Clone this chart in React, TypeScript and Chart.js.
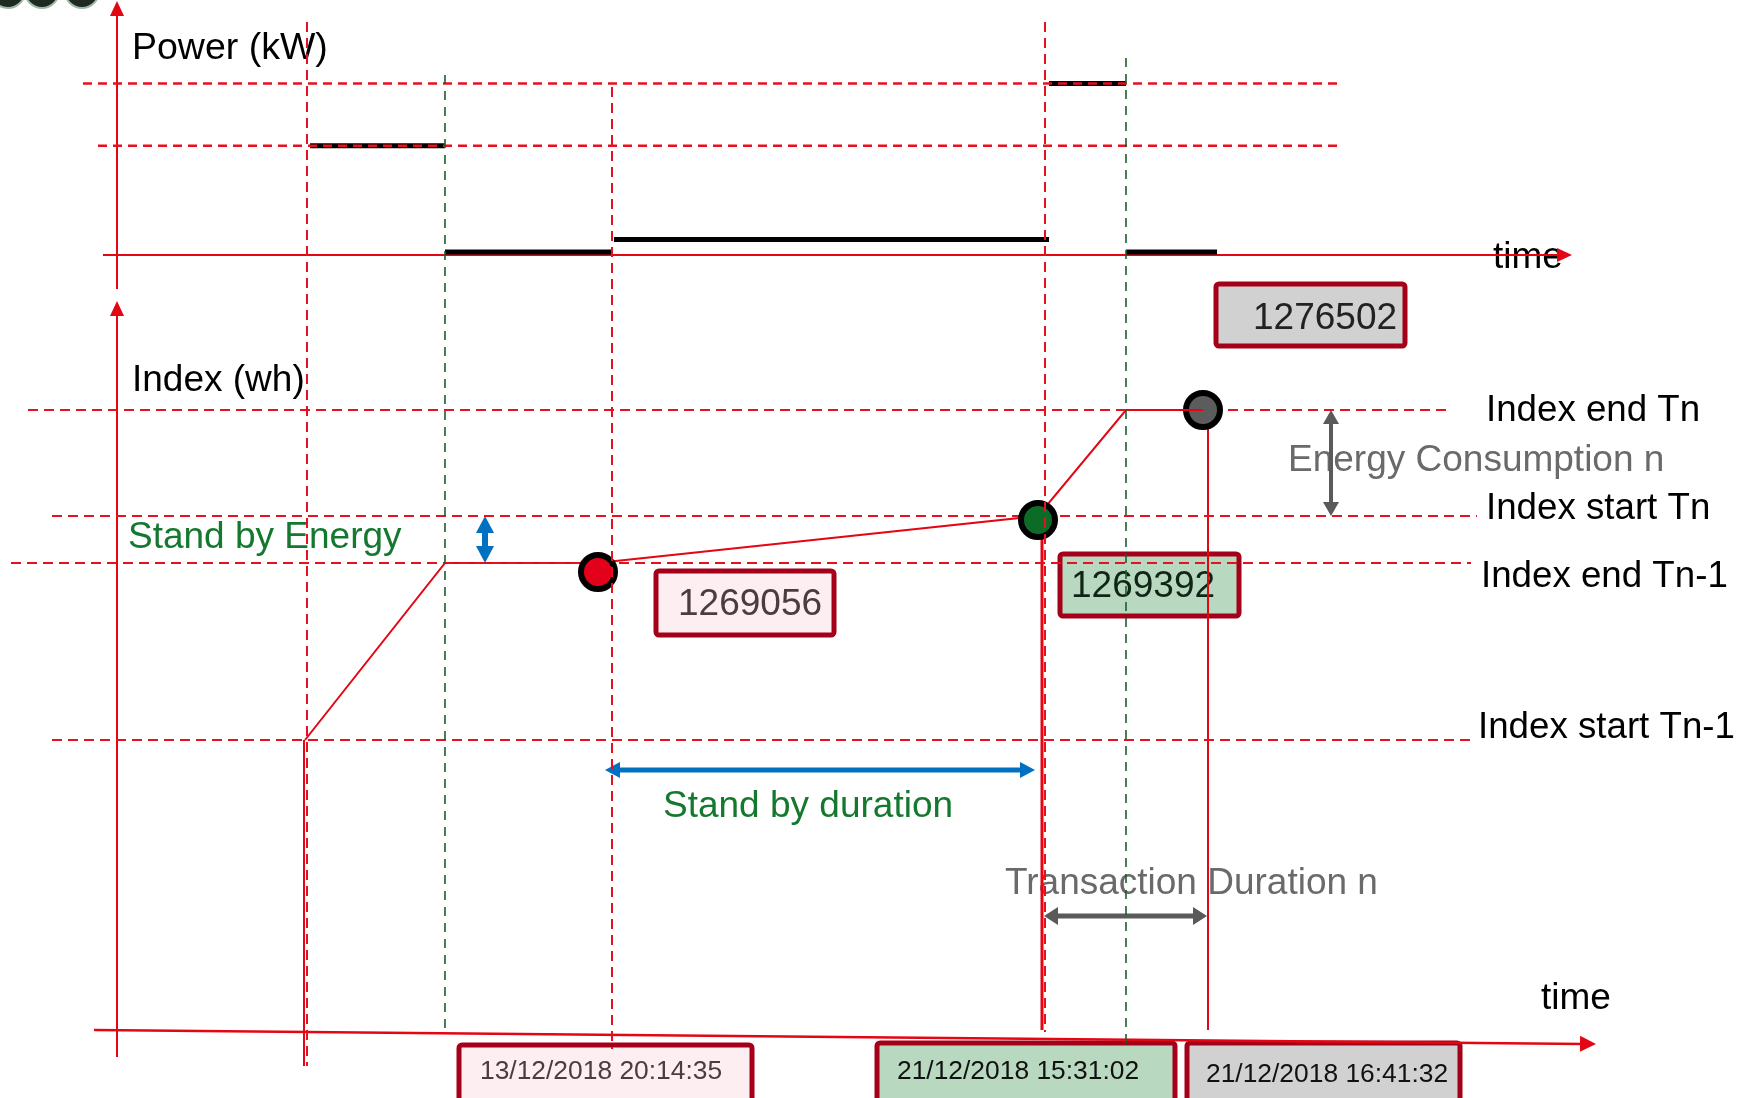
import { useEffect, useRef } from 'react';
import { Chart, registerables } from 'chart.js';

Chart.register(...registerables);

// ---------------- data (schematic units) ----------------
// time axis: schematic time units
const timeMarks = [30.7, 44.5, 61.2, 104.5, 112.6, 120.8];
const timeMarkKinds = ['red', 'green', 'red', 'red', 'green', 'none'];

// power (kW) step segments
const powerStart = [31.0, 44.5, 61.4, 104.9, 112.6];
const powerEnd = [44.5, 61.2, 104.9, 112.6, 121.7];
const powerValues = [7, 0.2, 1, 11, 0.2];
const powerGuideLevels = [11, 7];

// index (schematic level units)
const indexLevelNames = ['Index start Tn-1', 'Index end Tn-1', 'Index start Tn', 'Index end Tn'];
const indexLevels = [0, 17.7, 22.4, 33.0];

const curveTimes = [30.5, 44.5, 59.7, 103.8, 112.6, 120.3];
const curveLevels = [0, 17.7, 17.7, 22.4, 33.0, 33.0];

const dotTimes = [59.8, 103.8, 120.3];
const dotLevels = [16.8, 22.0, 33.0];

const meterReadings = ['1269056', '1269392', '1276502'];
const readingDates = ['13/12/2018 20:14:35', '21/12/2018 15:31:02', '21/12/2018 16:41:32'];

// ---------------- layout / style ----------------
const W = 1741;
const H = 1098;
const X_MAX = 174.1;
const P_ZERO = 255, P_K = 15.6;
const I_ZERO = 740, I_K = 10;

const RED = '#e30613';
const DASH_RED = '#e8101f';
const DARK_GREEN = '#1d5e2e';
const TEXT_GREEN = '#14782f';
const GREY_TXT = '#6a6a6a';
const BLUE = '#0070c0';
const GREY_ARROW = '#5a5a5a';
const BOX_BORDER = '#a5001a';
const FONT = '"Liberation Sans", Arial, sans-serif';

const powerGuideSpan = [[8.3, 133.8], [9.8, 133.8]];
const indexGuideSpan = [[5.2, 147.1], [1.1, 147.1], [5.2, 147.7], [2.8, 144.9]];
const vGuideRange = [[22, 1066], [75, 1033], [87, 1049], [22, 1032], [58, 1044], [0, 0]];

const dotColors = ['#e2001a', '#0c6b27', '#5c5c5c'];
const dotRadius = [17, 17, 17];

const readingBoxes = [
  { x: 656, y: 571, w: 178, h: 64, tx: 678, ty: 605, fill: '#fdeef1', color: '#4a3c40', size: 37 },
  { x: 1060, y: 554, w: 179, h: 62, tx: 1071, ty: 587, fill: '#b8d8c0', color: '#0f2617', size: 37 },
  { x: 1216, y: 284, w: 189, h: 62, tx: 1253, ty: 319, fill: '#d1d1d1', color: '#222222', size: 37 },
];
const dateBoxes = [
  { x: 459, y: 1045, w: 293, h: 75, tx: 480, ty: 1072, fill: '#fdeef1', color: '#4a3c40', size: 26.4 },
  { x: 877, y: 1043, w: 298, h: 75, tx: 897, ty: 1072, fill: '#b8d8c0', color: '#111111', size: 26.4 },
  { x: 1187, y: 1043, w: 273, h: 75, tx: 1206, ty: 1075, fill: '#d1d1d1', color: '#111111', size: 26.4 },
];

const texts = [
  { t: 'Power (kW)', x: 132, y: 49, c: '#000', s: 37.5 },
  { t: 'time', x: 1493, y: 258, c: '#000', s: 37 },
  { t: 'Index (wh)', x: 132, y: 381, c: '#000', s: 37 },
  { t: 'Stand by Energy', x: 128, y: 538, c: TEXT_GREEN, s: 37 },
  { t: 'Stand by duration', x: 663, y: 807, c: TEXT_GREEN, s: 37 },
  { t: 'Energy Consumption n', x: 1288, y: 461, c: GREY_TXT, s: 37 },
  { t: 'Transaction Duration n', x: 1005, y: 884, c: GREY_TXT, s: 37 },
  { t: 'time', x: 1541, y: 999, c: '#000', s: 37 },
];
const levelLabelPos = [
  { x: 1478, y: 728 },
  { x: 1481, y: 577 },
  { x: 1486, y: 509 },
  { x: 1486, y: 411 },
];

function arrowHead(ctx: CanvasRenderingContext2D, x: number, y: number, ang: number, len: number, hw: number) {
  const ux = Math.cos(ang), uy = Math.sin(ang);
  const bx = x - ux * len, by = y - uy * len;
  ctx.beginPath();
  ctx.moveTo(x, y);
  ctx.lineTo(bx - uy * hw, by + ux * hw);
  ctx.lineTo(bx + uy * hw, by - ux * hw);
  ctx.closePath();
  ctx.fill();
}

function arrowLine(ctx: CanvasRenderingContext2D, x1: number, y1: number, x2: number, y2: number, color: string, lw: number, len: number, hw: number, both: boolean) {
  const ang = Math.atan2(y2 - y1, x2 - x1);
  const ux = Math.cos(ang), uy = Math.sin(ang);
  ctx.save();
  ctx.strokeStyle = color;
  ctx.fillStyle = color;
  ctx.lineWidth = lw;
  ctx.setLineDash([]);
  ctx.beginPath();
  ctx.moveTo(both ? x1 + ux * len * 0.7 : x1, both ? y1 + uy * len * 0.7 : y1);
  ctx.lineTo(x2 - ux * len * 0.7, y2 - uy * len * 0.7);
  ctx.stroke();
  arrowHead(ctx, x2, y2, ang, len, hw);
  if (both) arrowHead(ctx, x1, y1, ang + Math.PI, len, hw);
  ctx.restore();
}

const diagramPlugin = {
  id: 'diagram',
  beforeDatasetsDraw(chart: any) {
    const ctx: CanvasRenderingContext2D = chart.ctx;
    const sx = chart.scales.x;
    const sI = chart.scales.yI;
    ctx.save();

    // partial circles at the top-left corner
    [8, 42, 82].forEach((cx) => {
      ctx.beginPath();
      ctx.arc(cx, -9, 17, 0, Math.PI * 2);
      ctx.fillStyle = '#1f2a22';
      ctx.fill();
      ctx.lineWidth = 2;
      ctx.strokeStyle = '#9fb8a5';
      ctx.stroke();
    });

    // boxes
    const drawBox = (b: any, label: string) => {
      ctx.beginPath();
      ctx.roundRect(b.x, b.y, b.w, b.h, 3);
      ctx.fillStyle = b.fill;
      ctx.fill();
      ctx.lineWidth = 5;
      ctx.strokeStyle = BOX_BORDER;
      ctx.stroke();
      ctx.font = `${b.size}px ${FONT}`;
      ctx.fillStyle = b.color;
      ctx.textAlign = 'left';
      ctx.textBaseline = 'middle';
      ctx.fillText(label, b.tx, b.ty);
    };
    readingBoxes.forEach((b, i) => drawBox(b, meterReadings[i]));
    dateBoxes.forEach((b, i) => drawBox(b, readingDates[i]));

    // texts
    ctx.textAlign = 'left';
    ctx.textBaseline = 'middle';
    texts.forEach((t) => {
      ctx.font = `${t.s}px ${FONT}`;
      ctx.fillStyle = t.c;
      ctx.fillText(t.t, t.x, t.y);
    });
    indexLevelNames.forEach((n, i) => {
      ctx.font = `36.7px ${FONT}`;
      ctx.fillStyle = '#000';
      ctx.fillText(n, levelLabelPos[i].x, levelLabelPos[i].y);
    });

    // annotation arrows
    arrowLine(ctx, 485, sI.getPixelForValue(indexLevels[1]), 485, sI.getPixelForValue(indexLevels[2]), BLUE, 6, 17, 9, true);
    arrowLine(ctx, sx.getPixelForValue(timeMarks[2]) - 7, 770, sx.getPixelForValue(timeMarks[3]) - 10, 770, BLUE, 5, 15, 8, true);
    arrowLine(ctx, 1331, sI.getPixelForValue(indexLevels[3]), 1331, sI.getPixelForValue(indexLevels[2]), GREY_ARROW, 4, 14, 8, true);
    arrowLine(ctx, sx.getPixelForValue(timeMarks[3]) - 1, 916, sx.getPixelForValue(timeMarks[5]) - 1, 916, GREY_ARROW, 5, 14, 9, true);

    // solid vertical index drops
    const drops = [
      { t: 30.4, from: sI.getPixelForValue(indexLevels[0]), to: 1066, w: 2 },
      { t: 104.2, from: 539, to: 1030, w: 3 },
      { t: timeMarks[5], from: 422, to: 1030, w: 2 },
    ];
    drops.forEach((d) => {
      const px = sx.getPixelForValue(d.t);
      ctx.beginPath();
      ctx.lineWidth = d.w;
      ctx.strokeStyle = RED;
      ctx.moveTo(px, d.from);
      ctx.lineTo(px, d.to);
      ctx.stroke();
    });

    // axes
    arrowLine(ctx, 117, 289, 117, 1, RED, 2, 15, 7, false);
    arrowLine(ctx, 103, P_ZERO, 1572, P_ZERO, RED, 2, 15, 7, false);
    arrowLine(ctx, 117, 1057, 117, 301, RED, 2, 15, 7, false);
    arrowLine(ctx, 94, 1030, 1596, 1044, RED, 2.5, 16, 8, false);

    ctx.restore();
  },
  afterDatasetsDraw(chart: any) {
    // vertical dashed guides drawn over the marks, as in the reference
    const ctx: CanvasRenderingContext2D = chart.ctx;
    const sx = chart.scales.x;
    ctx.save();
    timeMarks.forEach((t, i) => {
      const kind = timeMarkKinds[i];
      if (kind === 'none') return;
      const px = sx.getPixelForValue(t);
      ctx.beginPath();
      ctx.setLineDash(kind === 'red' ? [10, 6] : [9, 7]);
      ctx.lineWidth = kind === 'red' ? 2 : 1.6;
      ctx.strokeStyle = kind === 'red' ? DASH_RED : DARK_GREEN;
      ctx.moveTo(px, vGuideRange[i][0]);
      ctx.lineTo(px, vGuideRange[i][1]);
      ctx.stroke();
    });
    ctx.restore();
  },
};

export default function App() {
  const ref = useRef<HTMLCanvasElement | null>(null);

  useEffect(() => {
    if (!ref.current) return;
    const base = { showLine: true, pointRadius: 0, fill: false, tension: 0, clip: false as any };

    const datasets: any[] = [];
    // index curve end segment sits over the grey dot
    datasets.push({
      ...base,
      data: curveTimes.slice(4).map((t, i) => ({ x: t, y: curveLevels[4 + i] })),
      yAxisID: 'yI',
      borderColor: RED,
      borderWidth: 2,
    });
    // dots
    datasets.push({
      type: 'scatter',
      data: dotTimes.map((t, i) => ({ x: t, y: dotLevels[i] })),
      yAxisID: 'yI',
      showLine: false,
      pointRadius: dotRadius,
      pointBackgroundColor: dotColors,
      pointBorderColor: '#000',
      pointBorderWidth: 6,
      clip: false,
    });
    // horizontal dashed guides (index)
    indexLevels.forEach((lv, i) => {
      datasets.push({
        ...base,
        data: [{ x: indexGuideSpan[i][0], y: lv }, { x: indexGuideSpan[i][1], y: lv }],
        yAxisID: 'yI',
        borderColor: DASH_RED,
        borderWidth: 2,
        borderDash: [10, 6],
      });
    });
    // horizontal dashed guides (power)
    powerGuideLevels.forEach((lv, i) => {
      datasets.push({
        ...base,
        data: [{ x: powerGuideSpan[i][0], y: lv }, { x: powerGuideSpan[i][1], y: lv }],
        yAxisID: 'yP',
        borderColor: DASH_RED,
        borderWidth: 2.5,
        borderDash: [9, 6],
      });
    });
    // index curve
    datasets.push({
      ...base,
      data: curveTimes.map((t, i) => ({ x: t, y: curveLevels[i] })),
      yAxisID: 'yI',
      borderColor: RED,
      borderWidth: 2,
    });
    // power steps
    powerValues.forEach((v, i) => {
      datasets.push({
        ...base,
        data: [{ x: powerStart[i], y: v }, { x: powerEnd[i], y: v }],
        yAxisID: 'yP',
        borderColor: '#000',
        borderWidth: 5,
        borderCapStyle: 'butt',
      });
    });

    const chart = new Chart(ref.current, {
      type: 'scatter',
      data: { datasets },
      options: {
        animation: false,
        responsive: false,
        events: [],
        layout: { padding: 0, autoPadding: false },
        plugins: { legend: { display: false }, tooltip: { enabled: false }, title: { display: false } },
        scales: {
          x: { type: 'linear', min: 0, max: X_MAX, display: false },
          yP: { type: 'linear', position: 'left', min: (P_ZERO - H) / P_K, max: P_ZERO / P_K, display: false },
          yI: { type: 'linear', position: 'left', min: (I_ZERO - H) / I_K, max: I_ZERO / I_K, display: false },
        },
      },
      plugins: [diagramPlugin],
    } as any);
    return () => chart.destroy();
  }, []);

  return (
    <div style={{ position: 'absolute', left: 0, top: 0, width: W, height: H, background: '#fff', overflow: 'hidden' }}>
      <canvas ref={ref} width={W} height={H} style={{ display: 'block', width: W, height: H }} />
    </div>
  );
}
